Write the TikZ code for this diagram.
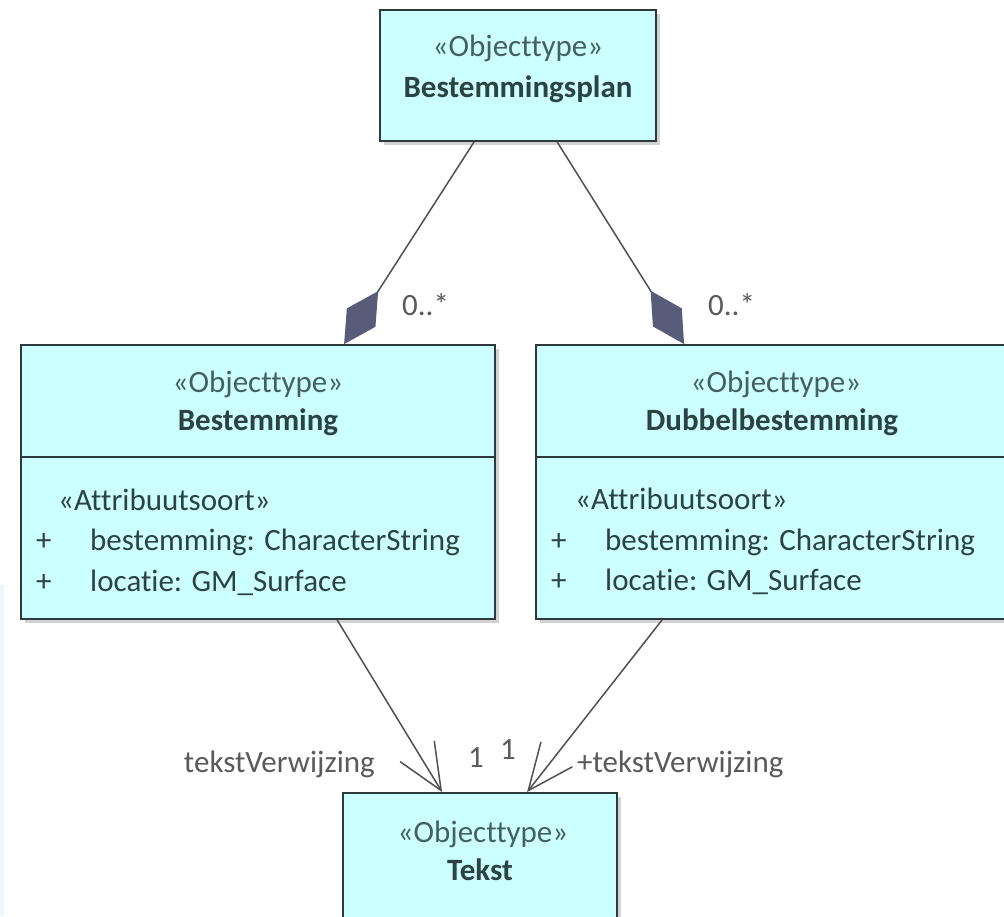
\documentclass[tikz,border=0pt]{standalone}
\usepackage{fontspec}
\setmainfont{Carlito}[Ligatures={NoCommon}]
\usetikzlibrary{arrows.meta,shadows}
\definecolor{classfill}{RGB}{204,255,255}
\definecolor{classborder}{RGB}{45,58,58}
\definecolor{linkgray}{RGB}{80,80,80}
\definecolor{diamondfill}{RGB}{88,92,120}
\definecolor{stereotext}{RGB}{70,96,96}
\definecolor{nametext}{RGB}{45,66,66}
\definecolor{labeltext}{RGB}{90,90,90}
\definecolor{edgestrip}{RGB}{236,246,252}

\begin{document}
\begin{tikzpicture}[x=1pt,y=1pt]
\tikzstyle{every node}+=[inner sep=0pt]
\tikzstyle{classbox}=[draw=classborder, fill=classfill, line width=1.8pt, drop shadow={shadow xshift=4pt, shadow yshift=-4pt, opacity=0.35}]
\tikzstyle{stereo}=[anchor=base, text=stereotext, font=\fontsize{31}{31}\selectfont]
\tikzstyle{classname}=[anchor=base, text=nametext, font=\fontsize{31}{31}\selectfont\bfseries]
\tikzstyle{attr}=[anchor=base west, text=nametext, font=\fontsize{31}{31}\selectfont]
\tikzstyle{mult}=[anchor=base west, text=labeltext, font=\fontsize{31}{31}\selectfont]
\tikzstyle{aggr}=[draw=linkgray, line width=1.5pt, -{Diamond[length=63pt,width=34pt,color=diamondfill]}]
\tikzstyle{assoc}=[draw=linkgray, line width=1.5pt, -{Straight Barb[length=46pt,width=40pt]}]
\useasboundingbox (0,0) rectangle (1004,-916);
\clip (0,0) rectangle (1004,-916);
\fill[white] (0,0) rectangle (1004,-916);
\fill[edgestrip] (0,-585) rectangle (4,-916);

\node[classbox, minimum width=276pt, minimum height=131pt] (plan) at (518,-75.5) {};
\node[stereo] (planst) at (518,-56) {«Objecttype»};
\node[classname] (planname) at (518,-97) {Bestemmingsplan};

\node[classbox, minimum width=474pt, minimum height=274pt] (best) at (258,-482) {};
\draw[classborder, line width=1.8pt] ([yshift=-113pt]best.north west) -- ([yshift=-113pt]best.north east);
\node[stereo] (bestst) at (258,-392) {«Objecttype»};
\node[classname] (bestname) at (258,-430) {Bestemming};
\node[attr] (bestsrt) at (58,-510) {«Attribuutsoort»};
\node[attr] (bestp1) at (36,-550) {+};
\node[attr] (besta1) at (90,-550) {bestemming: CharacterString};
\node[attr] (bestp2) at (36,-591) {+};
\node[attr] (besta2) at (90,-591) {locatie: GM\_Surface};

\node[classbox, minimum width=476pt, minimum height=274pt] (dubbel) at (774,-482) {};
\draw[classborder, line width=1.8pt] ([yshift=-113pt]dubbel.north west) -- ([yshift=-113pt]dubbel.north east);
\node[stereo] (dubst) at (776,-392) {«Objecttype»};
\node[classname] (dubname) at (772,-430) {Dubbelbestemming};
\node[attr] (dubsrt) at (575,-509) {«Attribuutsoort»};
\node[attr] (dubp1) at (551,-550) {+};
\node[attr] (duba1) at (605,-550) {bestemming: CharacterString};
\node[attr] (dubp2) at (551,-590) {+};
\node[attr] (duba2) at (605,-590) {locatie: GM\_Surface};

\node[classbox, minimum width=274pt, minimum height=150pt] (tekst) at (480,-868) {};
\node[stereo] (tekstst) at (483,-842) {«Objecttype»};
\node[classname] (tekstname) at (480,-880) {Tekst};

\draw[aggr] ([xshift=95pt]plan.south west) -- ([xshift=324pt]best.north west);
\node[mult] (multbest) at (402,-315) {0..*};
\draw[aggr] ([xshift=178pt]plan.south west) -- ([xshift=149pt]dubbel.north west);
\node[mult] (multdub) at (708,-315) {0..*};

\draw[assoc] ([xshift=317pt]best.south west) -- ([xshift=100pt]tekst.north west);
\draw[assoc] ([xshift=127pt]dubbel.south west) -- ([xshift=185pt]tekst.north west);
\node[mult] (multa) at (468,-767) {1};
\node[mult] (multb) at (500,-759) {1};
\node[mult, anchor=base east] (rolebest) at (375,-772) {tekstVerwijzing};
\node[mult] (roledub) at (577,-772) {+tekstVerwijzing};
\end{tikzpicture}
\end{document}
